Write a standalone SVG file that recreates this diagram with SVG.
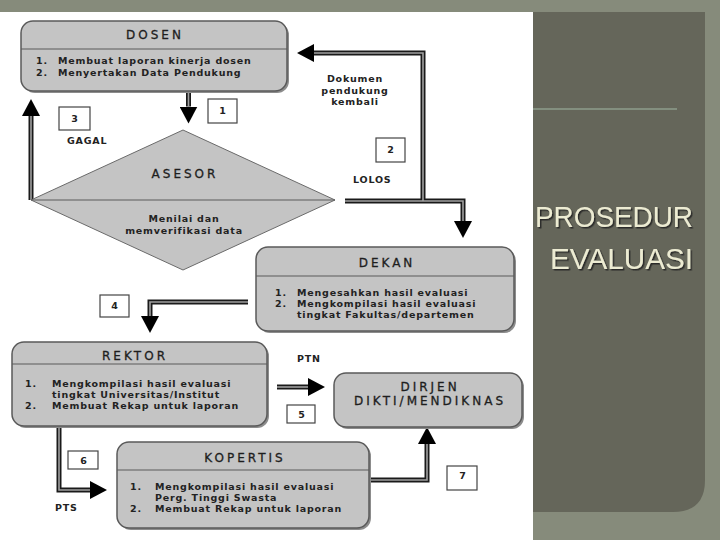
<svg xmlns="http://www.w3.org/2000/svg" width="720" height="540" viewBox="0 0 720 540">
<defs>
<style>
.box{fill:#c4c4c4;stroke:#5a5a5a;stroke-width:1.5}
.shadow{fill:#8c8c8c}
.div{stroke:#5a5a5a;stroke-width:1.2}
.title{font-family:"DejaVu Sans",Verdana,sans-serif;font-size:12px;letter-spacing:3px;fill:#1e1e1e;stroke:#1e1e1e;stroke-width:0.3;text-anchor:middle}
.item{font-family:"DejaVu Sans",Verdana,sans-serif;font-size:9.5px;letter-spacing:0.8px;font-weight:bold;fill:#222}
.mid{text-anchor:middle}
.nbox{fill:#fff;stroke:#444;stroke-width:1.2}
.pipe{fill:none;stroke:#1a1a1a;stroke-width:5;stroke-linejoin:miter}
.core{fill:none;stroke:#a0a0a0;stroke-width:1.6;stroke-linejoin:miter}
.slide{font-family:"Liberation Sans",Arial,sans-serif;font-size:30px;fill:#ecebd2;text-anchor:end}
</style>
<marker id="ah" markerUnits="userSpaceOnUse" markerWidth="17" markerHeight="18" viewBox="0 0 17 18" refX="0" refY="9" orient="auto">
<path d="M0,0 L17,9 L0,18 Z" fill="#000"/>
</marker>
<filter id="ts" x="-10%" y="-20%" width="130%" height="150%">
<feDropShadow dx="1.5" dy="1.5" stdDeviation="0.6" flood-color="#222" flood-opacity="0.9"/>
</filter>
</defs>

<!-- slide background -->
<rect x="0" y="0" width="720" height="540" fill="#868b7b"/>
<path d="M520,12 H705 V480 Q705,512 673,512 H520 Z" fill="#65665a"/>
<line x1="533" y1="109" x2="677" y2="109" stroke="#8e9e8c" stroke-width="1.5"/>
<g id="slide-title" filter="url(#ts)">
<text class="slide" x="693" y="227" textLength="158" lengthAdjust="spacingAndGlyphs">PROSEDUR</text>
<text class="slide" x="693" y="269" textLength="143" lengthAdjust="spacingAndGlyphs">EVALUASI</text>
</g>
<rect x="0" y="12" width="533" height="528" fill="#fff"/>

<!-- connectors -->
<g id="connectors">
<path class="pipe" d="M188.5,92 V106.5" marker-end="url(#ah)"/>
<path class="pipe" d="M31,200 V116" marker-end="url(#ah)"/>
<path class="pipe" d="M345,201 H463 V221" marker-end="url(#ah)"/>
<path class="pipe" d="M423,201 V53 H314" marker-end="url(#ah)"/>
<path class="pipe" d="M248,302 H150 V316" marker-end="url(#ah)"/>
<path class="pipe" d="M277,387 H308" marker-end="url(#ah)"/>
<path class="pipe" d="M59,426 V490 H90" marker-end="url(#ah)"/>
<path class="pipe" d="M369,480 H427 V444" marker-end="url(#ah)"/>
<path class="core" d="M188.5,92 V106.5"/>
<path class="core" d="M31,200 V116"/>
<path class="core" d="M345,201 H463 V221"/>
<path class="core" d="M423,201 V53 H314"/>
<path class="core" d="M248,302 H150 V316"/>
<path class="core" d="M277,387 H308"/>
<path class="core" d="M59,426 V490 H90"/>
<path class="core" d="M369,480 H427 V444"/>
</g>

<!-- DOSEN -->
<g id="dosen">
<rect class="shadow" x="23" y="23" width="266" height="70" rx="12"/>
<rect class="box" x="21" y="21" width="266" height="70" rx="12"/>
<line class="div" x1="21" y1="49" x2="287" y2="49"/>
<text class="title" x="155" y="39">DOSEN</text>
<text class="item" x="36" y="64">1.</text>
<text class="item" x="58" y="64">Membuat laporan kinerja dosen</text>
<text class="item" x="36" y="76">2.</text>
<text class="item" x="58" y="76">Menyertakan Data Pendukung</text>
</g>

<!-- ASESOR -->
<g id="asesor">
<polygon points="183,130 335,200 183,270 31,200" fill="#c4c4c4" stroke="#6a6a6a" stroke-width="1"/>
<line class="div" x1="31" y1="200" x2="335" y2="200"/>
<text class="title" x="185" y="178">ASESOR</text>
<text class="item mid" x="184" y="222">Menilai dan</text>
<text class="item mid" x="184" y="234">memverifikasi data</text>
</g>

<!-- DEKAN -->
<g id="dekan">
<rect class="shadow" x="258" y="249" width="258" height="84" rx="12"/>
<rect class="box" x="256" y="247" width="258" height="84" rx="12"/>
<line class="div" x1="256" y1="276" x2="514" y2="276"/>
<text class="title" x="387" y="267">DEKAN</text>
<text class="item" x="275" y="296">1.</text>
<text class="item" x="297" y="296">Mengesahkan hasil evaluasi</text>
<text class="item" x="275" y="307">2.</text>
<text class="item" x="297" y="307">Mengkompilasi hasil evaluasi</text>
<text class="item" x="297" y="318">tingkat Fakultas/departemen</text>
</g>

<!-- REKTOR -->
<g id="rektor">
<rect class="shadow" x="14" y="344" width="255" height="84" rx="12"/>
<rect class="box" x="12" y="342" width="255" height="84" rx="12"/>
<line class="div" x1="12" y1="364" x2="267" y2="364"/>
<text class="title" x="135" y="360">REKTOR</text>
<text class="item" x="25" y="387">1.</text>
<text class="item" x="52" y="387">Mengkompilasi hasil evaluasi</text>
<text class="item" x="52" y="398">tingkat Universitas/Institut</text>
<text class="item" x="25" y="409">2.</text>
<text class="item" x="52" y="409">Membuat Rekap untuk laporan</text>
</g>

<!-- DIRJEN -->
<g id="dirjen">
<rect class="shadow" x="336" y="375" width="188" height="54" rx="12"/>
<rect class="box" x="334" y="373" width="188" height="54" rx="12"/>
<text class="title" x="430" y="391">DIRJEN</text>
<text class="title" x="430" y="405">DIKTI/MENDIKNAS</text>
</g>

<!-- KOPERTIS -->
<g id="kopertis">
<rect class="shadow" x="119" y="444" width="252" height="86" rx="12"/>
<rect class="box" x="117" y="442" width="252" height="86" rx="12"/>
<line class="div" x1="117" y1="470" x2="369" y2="470"/>
<text class="title" x="245" y="462">KOPERTIS</text>
<text class="item" x="130" y="490">1.</text>
<text class="item" x="155" y="490">Mengkompilasi hasil evaluasi</text>
<text class="item" x="155" y="501">Perg. Tinggi Swasta</text>
<text class="item" x="130" y="512">2.</text>
<text class="item" x="155" y="512">Membuat Rekap untuk laporan</text>
</g>

<!-- step numbers -->
<g id="step1"><rect class="nbox" x="208" y="99" width="29" height="24"/><text class="item mid" x="223" y="114">1</text></g>
<g id="step2"><rect class="nbox" x="376" y="138" width="29" height="24"/><text class="item mid" x="391" y="153">2</text></g>
<g id="step3"><rect class="nbox" x="59" y="107" width="31" height="23"/><text class="item mid" x="75" y="122">3</text></g>
<g id="step4"><rect class="nbox" x="100" y="295" width="29" height="22"/><text class="item mid" x="115" y="309">4</text></g>
<g id="step5"><rect class="nbox" x="287" y="405" width="28" height="18"/><text class="item mid" x="302" y="418">5</text></g>
<g id="step6"><rect class="nbox" x="68" y="451" width="30" height="18"/><text class="item mid" x="84" y="464">6</text></g>
<g id="step7"><rect class="nbox" x="447" y="466" width="30" height="24"/><text class="item mid" x="463" y="479">7</text></g>

<!-- labels -->
<g id="labels">
<text class="item" x="67" y="144">GAGAL</text>
<text class="item" x="353" y="183">LOLOS</text>
<text class="item mid" x="355" y="82">Dokumen</text>
<text class="item mid" x="355" y="94">pendukung</text>
<text class="item mid" x="355" y="105">kembali</text>
<text class="item" x="297" y="362">PTN</text>
<text class="item" x="55" y="511">PTS</text>
</g>
</svg>
